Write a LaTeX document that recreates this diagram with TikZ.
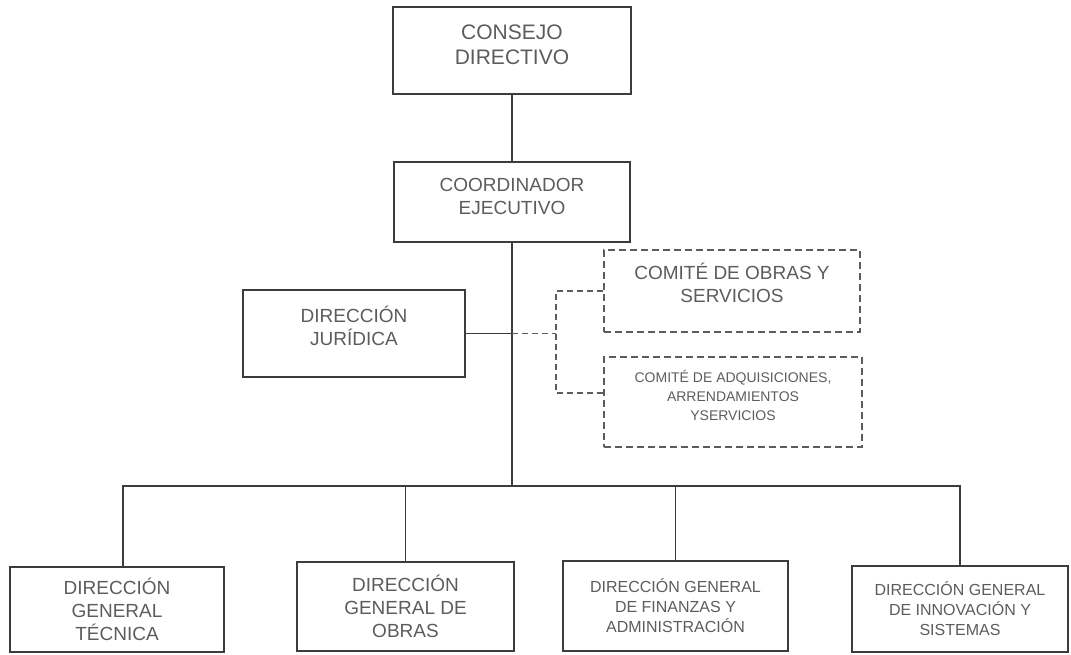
\documentclass[tikz,border=0pt]{standalone}
\usepackage{fontspec}
\setmainfont{Liberation Sans}
\usepackage{tikz}
\usetikzlibrary{positioning}
\definecolor{ink}{HTML}{3C3C3C}
\definecolor{muted}{HTML}{5C5C5C}
\tikzset{
  box/.style={draw=ink, line width=1.3pt, rectangle, align=center, text=muted, inner sep=0pt},
  dashbox/.style={box, draw=muted, dash pattern=on 7pt off 4pt},
  conn/.style={draw=ink, line width=1.1pt},
  dashconn/.style={draw=muted, line width=1.1pt, dash pattern=on 6pt off 4pt},
  txtbig/.style={font=\fontsize{21}{25}\selectfont},
  txtmid/.style={font=\fontsize{19}{23}\selectfont},
  txtsmall/.style={font=\fontsize{16}{20}\selectfont},
  txttiny/.style={font=\fontsize{14}{19}\selectfont},
  lift/.style={text depth=#1},
}

\begin{document}
\begin{tikzpicture}[x=1pt,y=-1pt]
  \useasboundingbox (0,0) rectangle (1071,654);
  \node[box,txtbig,lift=12pt,minimum width=238pt,minimum height=87pt] (consejo) at (512,50.5) {CONSEJO\\DIRECTIVO};
  \node[box,txtmid,lift=12pt,minimum width=236pt,minimum height=80pt] (coord) at (512,202) {COORDINADOR\\EJECUTIVO};
  \node[box,txtmid,lift=16pt,minimum width=222pt,minimum height=87pt] (juridica) at (354,333.5) {DIRECCIÓN\\JURÍDICA};
  \node[dashbox,txtmid,lift=16pt,minimum width=256pt,minimum height=82pt] (obrascom) at (732,291) {COMITÉ DE OBRAS Y\\SERVICIOS};
  \node[dashbox,txttiny,lift=14pt,minimum width=258pt,minimum height=90pt] (adqcom) at (733,402) {COMITÉ DE ADQUISICIONES,\\ARRENDAMIENTOS\\YSERVICIOS};
  \node[box,txtmid,minimum width=214pt,minimum height=85pt] (tecnica) at (117,609.5) {DIRECCIÓN\\GENERAL\\TÉCNICA};
  \node[box,txtmid,minimum width=217pt,minimum height=89pt] (obras) at (405.5,606.5) {DIRECCIÓN\\GENERAL DE\\OBRAS};
  \node[box,txtsmall,minimum width=225pt,minimum height=90pt] (finanzas) at (675.5,606) {DIRECCIÓN GENERAL\\DE FINANZAS Y\\ADMINISTRACIÓN};
  \node[box,txtsmall,minimum width=216pt,minimum height=86pt] (innova) at (960,609) {DIRECCIÓN GENERAL\\DE INNOVACIÓN Y\\SISTEMAS};

  \coordinate (bus) at (512,486);
  \coordinate (brk) at (556,333.5);
  \draw[conn] (consejo) -- (coord);
  \draw[conn] (coord.south) -- (bus);
  \draw[conn] ([xshift=6pt]tecnica.north) |- (bus) -| (innova.north);
  \draw[conn] (obras.north) -- (obras.north |- bus);
  \draw[conn] (finanzas.north) -- (finanzas.north |- bus);
  \draw[conn] (juridica.east) -- (juridica.east -| coord.south);
  \draw[dashconn] (juridica.east -| coord.south) -- (brk);
  \draw[dashconn] (obrascom.west) -| (brk) |- ([yshift=9pt]adqcom.west);
\end{tikzpicture}
\end{document}
